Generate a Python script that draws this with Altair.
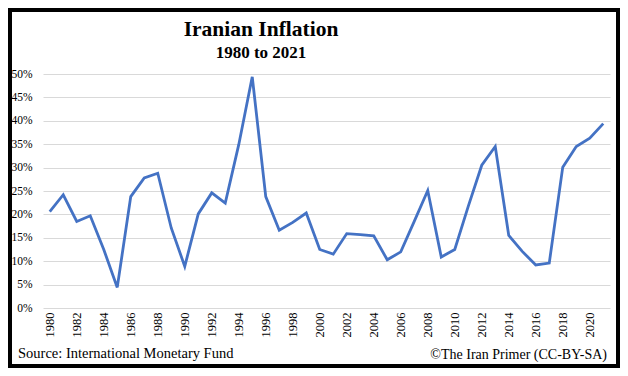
import altair as alt
import pandas as pd

years = list(range(1980, 2022))
inflation = [20.6, 24.2, 18.5, 19.7, 12.5, 4.4, 23.8, 27.8, 28.8, 17.1,
             8.9, 20.1, 24.6, 22.4, 34.9, 49.4, 23.8, 16.6, 18.3, 20.3,
             12.5, 11.5, 15.9, 15.7, 15.4, 10.3, 12.0, 18.5, 25.1, 10.9,
             12.5, 21.7, 30.5, 34.5, 15.5, 12.1, 9.2, 9.6, 30.1, 34.5,
             36.3, 39.4]
x_ticks = list(range(1980, 2021, 2))
y_ticks = list(range(0, 51, 5))
title_text = "Iranian Inflation"
subtitle_text = "1980 to 2021"
source_text = "Source:  International Monetary Fund"
credit_text = "\u00a9The Iran Primer (CC-BY-SA)"

SERIF = "Palatino Linotype, Book Antiqua, Palatino, Liberation Serif, serif"

df = pd.DataFrame({"year": years, "inflation": inflation})

line = alt.Chart(df).mark_line(color="#4472C4", strokeWidth=2.8).encode(
    x=alt.X("year:Q",
            scale=alt.Scale(domain=[1979.5, 2021.5], nice=False, zero=False),
            axis=alt.Axis(values=x_ticks, format="d", labelAngle=270,
                          title=None, grid=False, domain=False, ticks=False,
                          labelPadding=4, labelFont=SERIF, labelFontSize=12.5,
                          labelColor="#000000")),
    y=alt.Y("inflation:Q",
            scale=alt.Scale(domain=[0, 50], nice=False),
            axis=alt.Axis(values=y_ticks, labelExpr="datum.value + '%'",
                          title=None, domain=False, ticks=False,
                          gridColor="#d9d9d9", gridWidth=1,
                          labelPadding=11, labelFont=SERIF, labelFontSize=11.5,
                          labelColor="#000000")),
)

one = pd.DataFrame({"k": [0]})

def txt(t, x, y, size, weight="normal", align="center"):
    return alt.Chart(one).mark_text(
        text=t, font=SERIF, fontSize=size, fontWeight=weight,
        align=align, baseline="alphabetic", color="#000000"
    ).encode(x=alt.value(x), y=alt.value(y))

title = txt(title_text, 218, -38, 21.5, "bold")
subtitle = txt(subtitle_text, 218, -16, 17, "bold")
source = txt(source_text, -25, 284, 14.5, align="left")
credit = txt(credit_text, 564, 285, 14, align="right")

frame = alt.Chart(one).mark_rect(
    fillOpacity=0, stroke="#000000", strokeWidth=4
).encode(x=alt.value(-33), x2=alt.value(575), y=alt.value(-64), y2=alt.value(292))

chart = alt.layer(line, title, subtitle, source, credit, frame).properties(
    width=567, height=234,
    autosize=alt.AutoSizeParams(type="none"),
    padding={"left": 35, "top": 66, "right": 10, "bottom": 60},
    background="white",
).configure_view(stroke=None)

chart.save("out.html", embed_options={"renderer": "svg", "actions": False})
